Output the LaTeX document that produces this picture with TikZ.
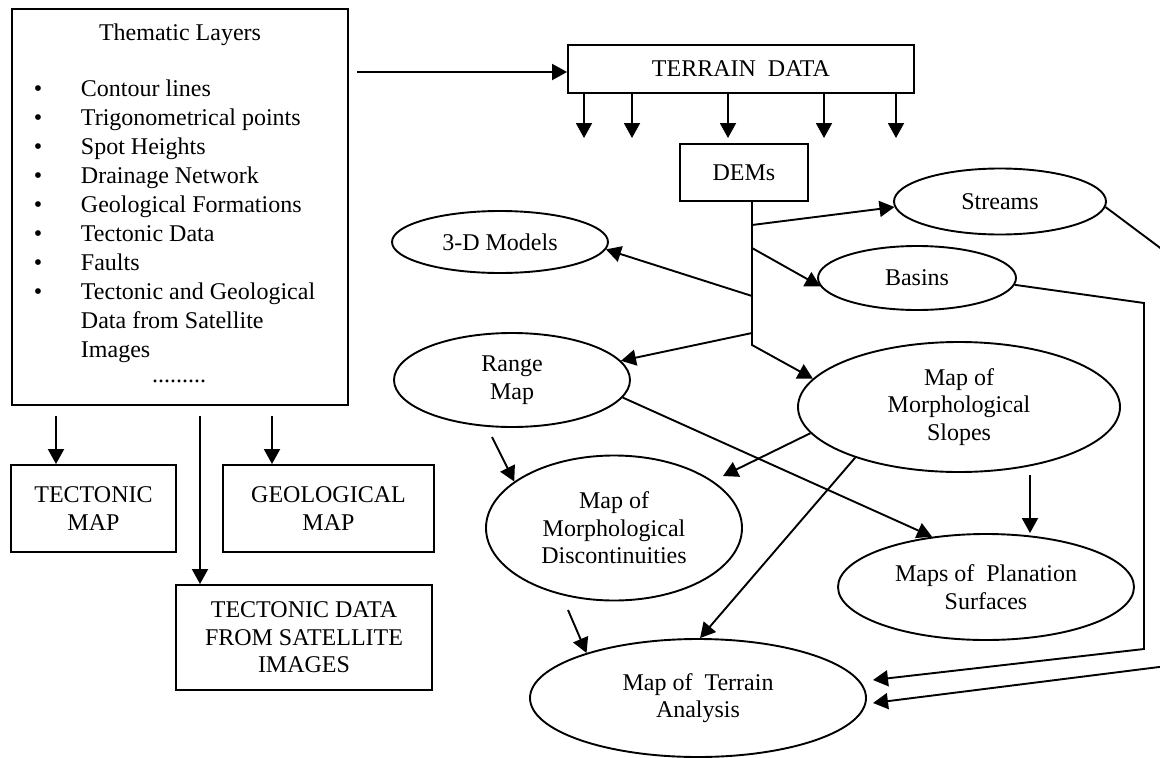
\documentclass[tikz,border=0pt]{standalone}
\usepackage{fontspec}
\setmainfont{Liberation Serif}
\usetikzlibrary{arrows.meta}
\usetikzlibrary{shapes.geometric}

\begin{document}
\begin{tikzpicture}[x=1pt, y=-1pt, line width=1.9pt,
    >={Triangle[length=15pt,width=16pt]},
    font=\fontsize{24}{27.6}\selectfont,
    box/.style={draw, rectangle, inner sep=0pt, align=center},
    oval/.style={draw, ellipse, inner sep=0pt, align=center}]
  \useasboundingbox (0,0) rectangle (1160,758);

  \node[box, minimum width=336pt, minimum height=396pt] (layers) at (180,207) {};
  \node[anchor=base] (title) at (180,40) {Thematic Layers};
  \foreach \txt [count=\k from 0] in {Contour lines, Trigonometrical points, Spot Heights,
      Drainage Network, Geological Formations, Tectonic Data, Faults,
      Tectonic and Geological, Data from Satellite, Images}{
    \node[anchor=base west, inner sep=0pt] (item\k) at (80,{96+29.1*\k}) {\txt};
    \ifnum\k<8 \node[anchor=base, inner sep=0pt] (dot\k) at (38,{96+29.1*\k}) {\textbullet}; \fi
  }
  \node[anchor=base, inner sep=0pt] (more) at (179,382) {.........};

  \node[box, minimum width=346pt, minimum height=48pt] (terrain) at (741,69) {TERRAIN\ \ DATA};
  \node[box, minimum width=128pt, minimum height=57pt] (dems) at (744,172.5) {DEMs};

  \node[oval, minimum width=216pt, minimum height=62pt] (models) at (500,242) {3-D Models};
  \node[oval, minimum width=212pt, minimum height=66pt] (streams) at (1000,201.5) {Streams};
  \node[oval, minimum width=198pt, minimum height=64pt] (basins) at (917,278) {Basins};
  \node[oval, minimum width=236pt, minimum height=94pt] (range) at (512,380) {Range\\Map};
  \node[oval, minimum width=322pt, minimum height=130pt] (slopes) at (959,407) {Map of\\Morphological\\Slopes};
  \node[oval, minimum width=256pt, minimum height=145pt] (disc) at (614,528) {Map of\\Morphological\\Discontinuities};
  \node[oval, minimum width=296pt, minimum height=106pt] (plan) at (986,587) {Maps of\ \ Planation\\Surfaces};
  \node[oval, minimum width=336pt, minimum height=118pt] (analysis) at (698,698) {Map of\ \ Terrain\\Analysis};

  \node[box, minimum width=165pt, minimum height=87pt] (tmap) at (93.5,508.5) {TECTONIC\\MAP};
  \node[box, minimum width=211pt, minimum height=87pt] (gmap) at (328.5,508.5) {GEOLOGICAL\\MAP};
  \node[box, minimum width=256pt, minimum height=105pt] (tsat) at (304,637.5) {TECTONIC DATA\\FROM SATELLITE\\IMAGES};

  \coordinate (from) at (357,72);
  \draw[->] (from) -- (from -| terrain.west);
  \foreach \x [count=\i] in {584,632,728,824,896}{
    \coordinate (d\i) at (\x,93);
    \coordinate (e\i) at (\x,138);
    \draw[->] (d\i) -- (e\i);
  }

  \coordinate (t1) at (752,225);
  \coordinate (t2) at (752,248);
  \coordinate (t3) at (752,296);
  \coordinate (t4) at (752,333);
  \coordinate (t5) at (752,345);
  \draw[->] (t1 |- dems.south) -- (t5) -- (slopes.169);
  \draw[->] (t1) -- (streams.183);
  \draw[->] (t2) -- (basins.185);
  \draw[->] (t3) -- (models.-4);
  \draw[->] (t4) -- (range.10);

  \coordinate (ta1) at (873,680);
  \coordinate (ta2) at (873,703);
  \coordinate (s1) at (1175,259);
  \coordinate (s2) at (1175,665);
  \coordinate (b1) at (1144,303);
  \coordinate (b2) at (1144,649);
  \draw[->] (streams.-3) -- (s1) -- (s2) -- (ta2);
  \draw[->] (basins.-4) -- (b1) -- (b2) -- (ta1);

  \coordinate (sp) at (1030,475);
  \coordinate (dtip) at (723,476);
  \coordinate (r1) at (492,437);
  \coordinate (r2) at (568,610);
  \draw[->] (sp) -- (sp |- plan.north);
  \draw[->] (range.-9) -- (plan.137);
  \draw[->] (slopes.190) -- (dtip);
  \draw[->] (slopes.206) -- (analysis.88);
  \draw[->] (r1) -- (disc.155);
  \draw[->] (r2) -- (analysis.158);

  \coordinate (l1) at (56,416);
  \coordinate (l2) at (200,416);
  \coordinate (l3) at (272,416);
  \draw[->] (l1) -- (l1 |- tmap.north);
  \draw[->] (l2) -- (l2 |- tsat.north);
  \draw[->] (l3) -- (l3 |- gmap.north);
\end{tikzpicture}
\end{document}
